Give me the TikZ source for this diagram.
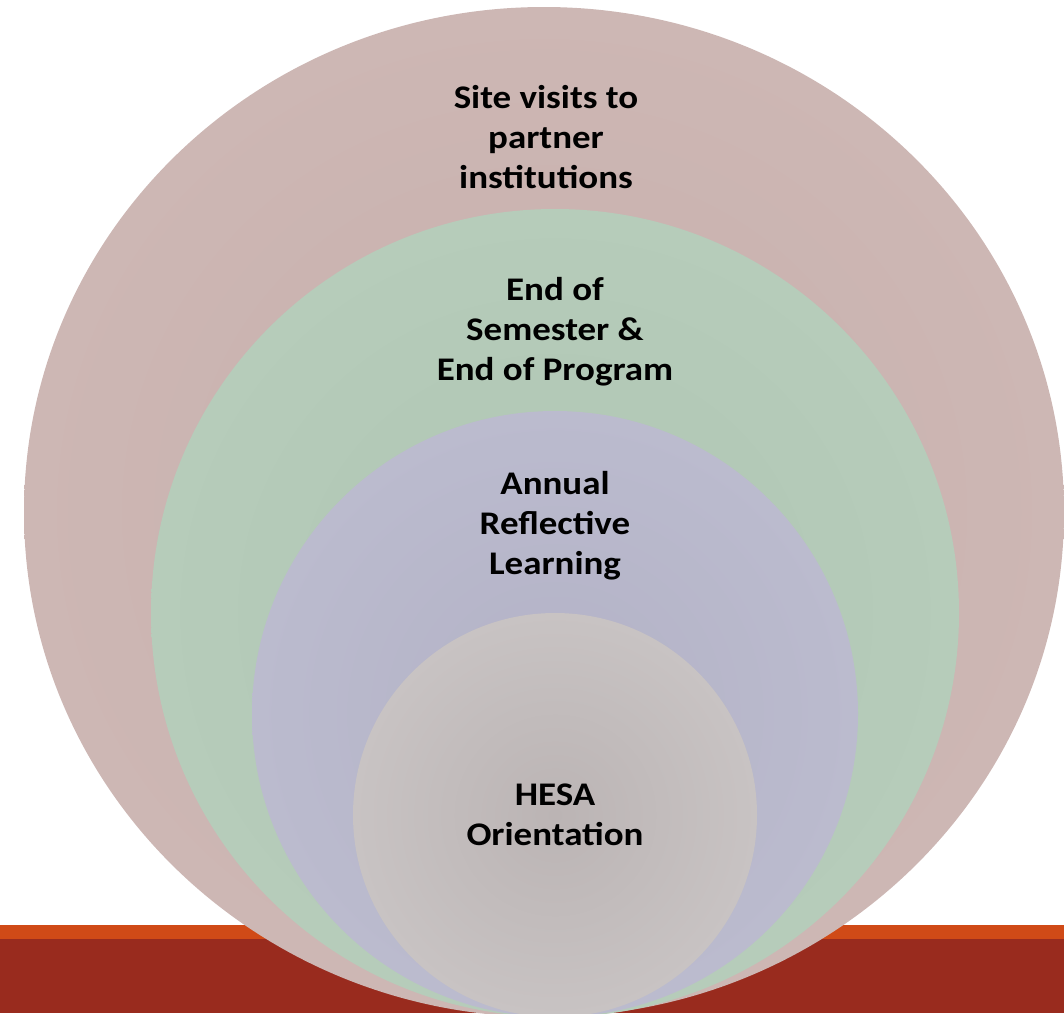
\documentclass[tikz,border=0pt]{standalone}
\usepackage{fontspec}
\setmainfont{Carlito}
% slightly widened bold face for the ring captions
\newfontfamily\capfont{Carlito Bold}[FakeStretch=1.12]
\begin{document}
\begin{tikzpicture}[x=1pt,y=-1pt,
  label/.style={font=\capfont\fontsize{33}{40}\selectfont, align=center, text=black, inner sep=0pt}]
\useasboundingbox (0,0) rectangle (1064,1013);
\definecolor{barorange}{HTML}{D04A17}
\definecolor{barred}{HTML}{992B1E}
\definecolor{pinkin}{HTML}{C7AFAC}
\definecolor{pinkout}{HTML}{CDB7B4}
\definecolor{greenin}{HTML}{AFC5B3}
\definecolor{greenout}{HTML}{B6CCBA}
\definecolor{purplein}{HTML}{B3B2C6}
\definecolor{purpleout}{HTML}{BBBBCE}
\definecolor{greyin}{HTML}{BBB4B4}
\definecolor{greyout}{HTML}{C8C3C3}

% footer band
\fill[barorange] (0,925) rectangle (1064,940);
\fill[barred] (0,939) rectangle (1064,1013);

% nested rings, all touching at the bottom
\shade[inner color=pinkin, outer color=pinkout] (544,512) ellipse [x radius=520, y radius=505];
\shade[inner color=greenin, outer color=greenout] (555,613) circle [radius=404];
\shade[inner color=purplein, outer color=purpleout] (555,714) circle [radius=303];
\shade[inner color=greyin, outer color=greyout] (555,815) circle [radius=202];

% ring captions
\node[label] (site) at (546,137) {Site visits to\\partner\\institutions};
\node[label] (end) at (555,332) {End of\\Semester \&\\End of Program};
\node[label] (annual) at (555,526) {Annual\\Reflective\\Learning};
\node[label] (hesa) at (555,815) {HESA\\Orientation};
\end{tikzpicture}
\end{document}
